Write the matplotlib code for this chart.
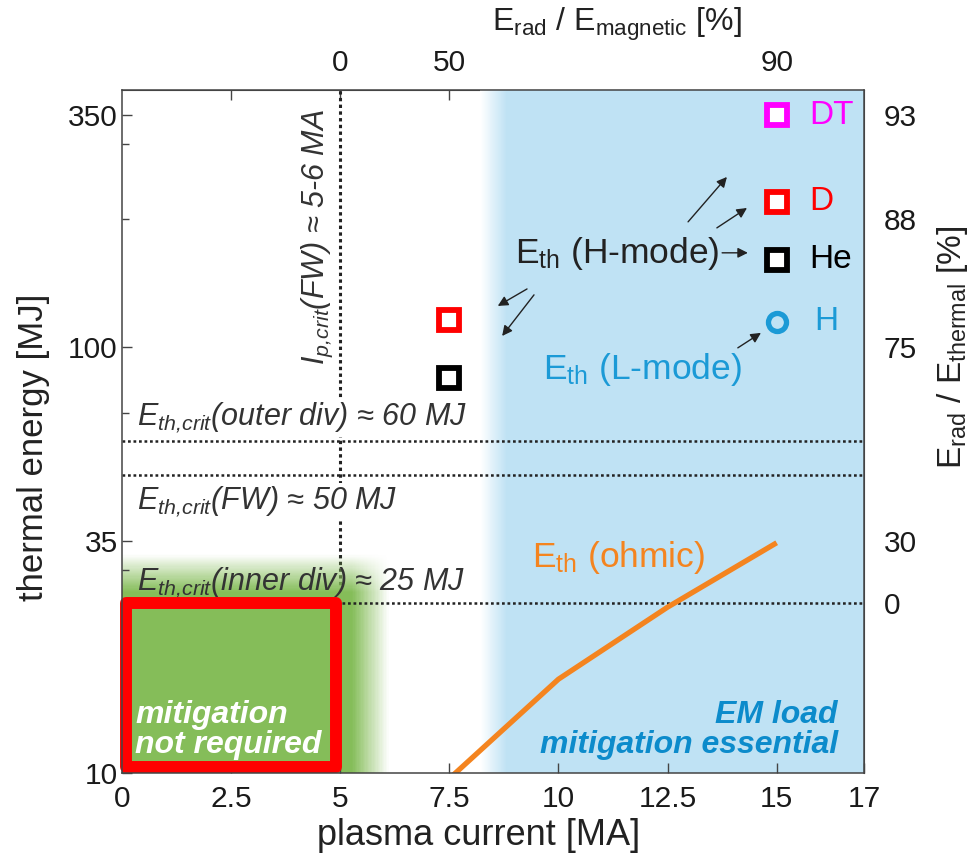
import matplotlib
matplotlib.use("Agg")
import matplotlib.pyplot as plt
import numpy as np
from matplotlib.colors import LinearSegmentedColormap
from matplotlib.patches import Rectangle
from matplotlib.ticker import FixedLocator, NullFormatter

plt.rcParams['font.family'] = ['Liberation Sans', 'DejaVu Sans']
plt.rcParams['mathtext.default'] = 'regular'

# thermal energy of the different scenarios [MJ] vs plasma current [MA]
ip_h_mode = [15, 15, 15]
eth_h_mode = [350, 219, 160]
species_h_mode = ['DT', 'D', 'He']
colors_h_mode = ['#FF00FF', '#FF0000', '#000000']

ip_l_mode = [15]
eth_l_mode = [114.5]

ip_mid = [7.5, 7.5]
eth_mid = [115.7, 84.6]
colors_mid = ['#FF0000', '#000000']

ip_ohmic = [7.5, 10, 12.5, 15]
eth_ohmic = [9.7, 16.6, 24.5, 34.7]

# critical energies / currents
eth_crit = [60, 50, 25]
ip_crit = 5

# axis ticks
x_ticks = [0, 2.5, 5, 7.5, 10, 12.5, 15, 17]
x_labels = ['0', '2.5', '5', '7.5', '10', '12.5', '15', '17']
y_ticks = [10, 35, 100, 350]
y_minor = [20, 30, 70, 200, 300]
top_ticks = [2.5, 5, 7.5, 10, 12.5, 15]
top_labels = ['', '0', '50', '', '', '90']
right_ticks = [25, 35, 100, 200, 350]
right_labels = ['0', '30', '75', '88', '93']
right_minor = [20, 30, 70, 300]

XMAX = 17
YMIN, YMAX = 10, 401

DARK = '#333333'
BLUE_BG = '#BFE2F4'
ORANGE = '#F4841F'
H_BLUE = '#1B9AD6'
TICK_FS = 21.5

fig = plt.figure(figsize=(9.69, 8.56), dpi=100)
ax = fig.add_axes([0.1259, 0.0970, 0.7657, 0.7979])
ax.set_yscale('log')
ax.set_xlim(0, XMAX)
ax.set_ylim(YMIN, YMAX)

# blue background: EM load mitigation region with soft left edge
bx = np.linspace(8.2, XMAX, 400)
by = np.array([YMIN, YMAX])
bval = np.clip((bx - 8.2) / 0.6, 0, 1)
bcmap = LinearSegmentedColormap.from_list('bl', ['#FFFFFF', BLUE_BG])
ax.pcolormesh(bx, by, bval[:-1][None, :], cmap=bcmap, vmin=0, vmax=1,
              shading='flat', antialiased=False, zorder=0.5, rasterized=True)

# green region: mitigation not required, fading to the right and top
gx = np.linspace(0, 6.2, 200)
gy = np.logspace(1, np.log10(33), 200)
fx = np.clip((6.1 - gx) / (6.1 - 5.25), 0, 1)
fy = np.clip((np.log10(32.5) - np.log10(gy)) / (np.log10(32.5) - np.log10(26.5)), 0, 1)
galpha = np.outer(fy[:-1], fx[:-1])
gcmap = LinearSegmentedColormap.from_list(
    'gr', [(0.52, 0.74, 0.35, 0.0), (0.52, 0.74, 0.35, 1.0)])
ax.pcolormesh(gx, gy, galpha, cmap=gcmap, vmin=0, vmax=1, shading='flat',
              antialiased=False, zorder=1, rasterized=True)

# critical current / energy lines
dots = (0, (1.1, 1.1))
ax.axvline(ip_crit, color='#222222', lw=2.2, ls=dots, zorder=0.8)
for e in eth_crit:
    ax.axhline(e, color='#222222', lw=1.8, ls=dots, zorder=2)

txt_kw = dict(fontsize=22, style='italic', color=DARK, va='center', ha='left')
white_box = dict(boxstyle='square,pad=0.05', fc='white', ec='none')
ax.text(0.34, 68, r'$E_{th{,}crit}$(outer div) ≈ 60 MJ', zorder=3,
        bbox=white_box, **txt_kw)
ax.text(0.34, 43.3, r'$E_{th{,}crit}$(FW) ≈ 50 MJ', zorder=3,
        bbox=white_box, **txt_kw)
ax.text(0.34, 27.9, r'$E_{th{,}crit}$(inner div) ≈ 25 MJ', zorder=3.5, **txt_kw)
ax.text(4.47, 181, r'$I_{p{,}crit}$(FW) ≈ 5-6 MA', rotation=90, fontsize=22,
        style='italic', color=DARK, ha='center', va='center', zorder=3)

# red frame round the safe region
ax.add_patch(Rectangle((0.1, 10.3), 4.8, 25.1 - 10.3, fill=False, ec='#FF0000',
                       lw=8.6, joinstyle='round', clip_on=False, zorder=4))
ax.text(0.3, 10.75, 'mitigation\nnot required', color='white', fontsize=23,
        fontweight='bold', style='italic', ha='left', va='bottom',
        linespacing=1.0, zorder=5)
ax.text(16.4, 10.75, 'EM load\nmitigation essential', color='#0C8BCB',
        fontsize=23, fontweight='bold', style='italic', ha='right',
        va='bottom', multialignment='right', linespacing=1.0, zorder=5)

# ohmic thermal energy
ax.plot(ip_ohmic, eth_ohmic, color=ORANGE, lw=3.8, solid_capstyle='butt', zorder=3)
ax.text(9.39, 32.1, r'$E_{th}$ (ohmic)', color=ORANGE, fontsize=25.5,
        ha='left', va='center', zorder=5)

# H-mode points
for x, e, c in zip(ip_h_mode, eth_h_mode, colors_h_mode):
    ax.plot(x, e, 's', ms=14, mew=4.2, mec=c, mfc='white', zorder=6)
for x, e, c in zip(ip_mid, eth_mid, colors_mid):
    ax.plot(x, e, 's', ms=14, mew=4.2, mec=c, mfc='white', zorder=6)
for e, name, c in zip(eth_h_mode, species_h_mode, colors_h_mode):
    ax.text(15.75, e, name, color=c, fontsize=24, ha='left', va='center', zorder=6)

# L-mode point
ax.plot(ip_l_mode, eth_l_mode, 'o', ms=13, mew=3.8, mec=H_BLUE, mfc='none', zorder=6)
ax.text(15.85, eth_l_mode[0], 'H', color=H_BLUE, fontsize=24, ha='left',
        va='center', zorder=6)

ax.text(9.0, 166, r'$E_{th}$ (H-mode)', color='#222222', fontsize=25.5,
        ha='left', va='center', zorder=5)
ax.text(9.65, 88.3, r'$E_{th}$ (L-mode)', color=H_BLUE, fontsize=25.5,
        ha='left', va='center', zorder=5)

arrows = [((12.97, 196.6), (13.86, 250.6)),
          ((13.63, 190.3), (14.32, 211.9)),
          ((13.75, 166.3), (14.34, 166.3)),
          ((9.28, 136.8), (8.61, 124.8)),
          ((9.44, 132.5), (8.71, 106.1)),
          ((14.11, 99.5), (14.64, 107.9))]
for tail, head in arrows:
    ax.annotate('', xy=head, xytext=tail, zorder=5,
                arrowprops=dict(arrowstyle='-|>', color='#222222', lw=1.0,
                                mutation_scale=15, shrinkA=0, shrinkB=0))

# axes styling
for s in ax.spines.values():
    s.set_color('#444444')
    s.set_linewidth(1.1)
    s.set_zorder(7)

ax.set_xticks(x_ticks, x_labels)
ax.set_yticks(y_ticks, [str(t) for t in y_ticks])
ax.yaxis.set_minor_locator(FixedLocator(y_minor))
ax.yaxis.set_minor_formatter(NullFormatter())
ax.tick_params(axis='both', which='both', direction='in', color='#444444',
               labelsize=TICK_FS, labelcolor='#1a1a1a')
ax.tick_params(axis='both', which='major', length=7, width=1)
ax.tick_params(axis='both', which='minor', length=5, width=1)
ax.tick_params(axis='y', pad=3)
ax.tick_params(axis='x', pad=9)

top = ax.secondary_xaxis('top')
top.set_xticks(top_ticks, top_labels)
top.tick_params(direction='in', length=7, width=1, color='#444444',
                labelsize=TICK_FS, labelcolor='#1a1a1a', pad=9)
top.spines['top'].set_color('#444444')

right = ax.secondary_yaxis('right')
right.set_yticks(right_ticks, right_labels)
right.yaxis.set_minor_locator(FixedLocator(right_minor))
right.yaxis.set_minor_formatter(NullFormatter())
right.tick_params(which='both', direction='in', color='#444444',
                  labelsize=TICK_FS, labelcolor='#1a1a1a', pad=14)
right.tick_params(which='major', length=7, width=1)
right.tick_params(which='minor', length=5, width=1)
right.spines['right'].set_color('#444444')

ax.set_xlabel('plasma current [MA]', fontsize=26, color='#222222')
ax.xaxis.set_label_coords(0.48, -0.066)
ax.set_ylabel('thermal energy [MJ]', fontsize=25, color='#222222')
ax.yaxis.set_label_coords(-0.097, 0.477)

fig.text(617 / 969, 1 - 24 / 856, r'$E_{rad}$ / $E_{magnetic}$ [%]', fontsize=23,
         color='#222222', ha='center', va='center')
fig.text(952 / 969, 1 - 347 / 856, r'$E_{rad}$ / $E_{thermal}$ [%]', fontsize=24,
         color='#222222', ha='center', va='center', rotation=90)

fig.savefig('out.png', dpi=100)
